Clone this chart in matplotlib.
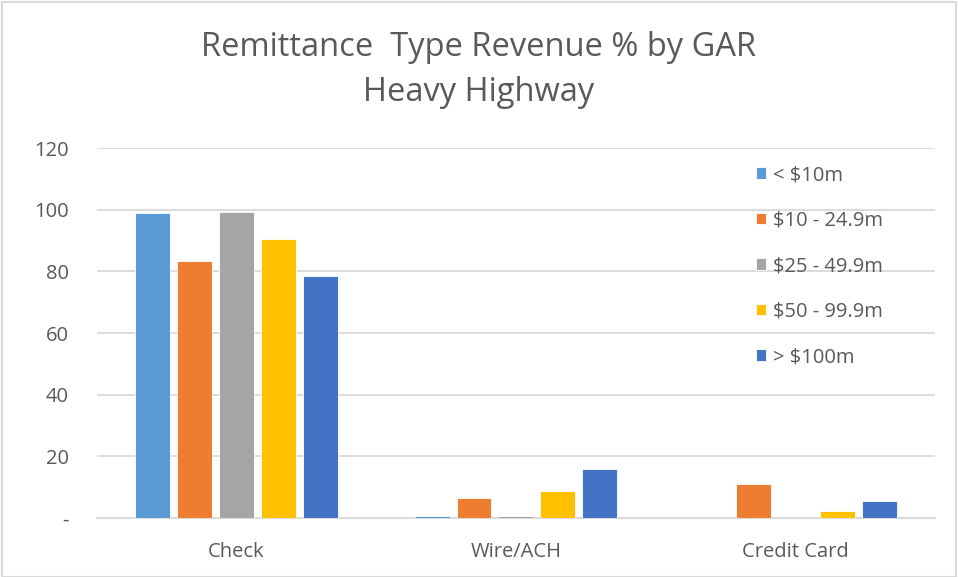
import numpy as np
import matplotlib.pyplot as plt
from matplotlib.patches import Rectangle

categories = ["Check", "Wire/ACH", "Credit Card"]
series_names = ["< $10m", "$10 - 24.9m", "$25 - 49.9m", "$50 - 99.9m", "> $100m"]
lt_10m = [99.0, 0.7, 0.0]
m10_25 = [83.5, 6.4, 11.0]
m25_50 = [99.3, 0.7, 0.0]
m50_100 = [90.5, 8.9, 2.3]
gt_100m = [78.5, 16.0, 5.6]
yticks = [0, 20, 40, 60, 80, 100, 120]
ytick_labels = ["-", "20", "40", "60", "80", "100", "120"]

colors = ["#5B9BD5", "#ED7D31", "#A5A5A5", "#FFC000", "#4472C4"]
text_color = "#595959"
plt.rcParams['font.family'] = ['Open Sans', 'DejaVu Sans']

fig = plt.figure(figsize=(9.58, 5.77), dpi=100)
ax = fig.add_axes([0.101, 0.102, 0.875, 0.6415])

x = np.arange(len(categories))
step = 0.15
width = 0.125
all_series = [lt_10m, m10_25, m25_50, m50_100, gt_100m]
for i, (vals, name, c) in enumerate(zip(all_series, series_names, colors)):
    offs = (i - 2) * step
    ax.bar(x + offs, vals, width, color=c, label=name, edgecolor="white", linewidth=0.6, zorder=3)

ax.set_xlim(-0.5, 2.5)
ax.set_ylim(0, 120)
ax.set_yticks(yticks)
ax.set_yticklabels(ytick_labels)
ax.set_xticks(x)
ax.set_xticklabels(categories)
ax.tick_params(axis="both", length=0, labelsize=14.5, colors=text_color)
ax.tick_params(axis="y", pad=20)
ax.tick_params(axis="x", pad=17)
ax.grid(axis="y", color="#D9D9D9", linewidth=1.3, zorder=0)
for s in ["top", "right", "left"]:
    ax.spines[s].set_visible(False)
ax.spines["bottom"].set_color("#D9D9D9")
ax.spines["bottom"].set_linewidth(1.3)

leg = ax.legend(loc="upper left", bbox_to_anchor=(0.786, 0.954), frameon=False,
                borderaxespad=0, borderpad=0,
                fontsize=14.5, labelspacing=1.27, handlelength=0.5, handleheight=0.5,
                handletextpad=0.35, labelcolor=text_color)

fig.text(0.5, 0.917, "Remittance  Type Revenue % by GAR", ha="center", va="center",
         fontsize=23.5, color=text_color)
fig.text(0.5, 0.839, "Heavy Highway", ha="center", va="center",
         fontsize=23.5, color=text_color)

fig.patches.append(Rectangle((0.002, 0.0), 0.996, 0.996, transform=fig.transFigure,
                             fill=False, edgecolor="#D9D9D9", linewidth=1.5))

fig.savefig("out.png", dpi=100)
